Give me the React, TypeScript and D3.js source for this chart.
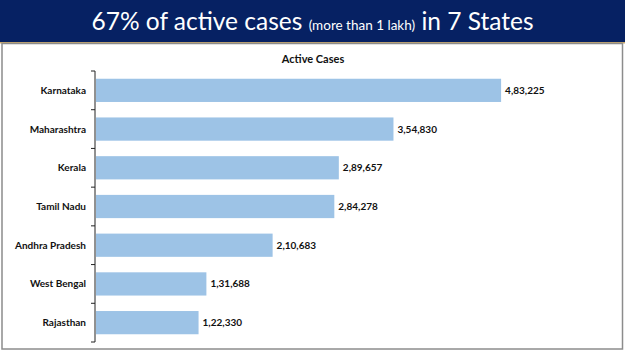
import React from "react";
import * as d3 from "d3";

const states = ["Karnataka", "Maharashtra", "Kerala", "Tamil Nadu", "Andhra Pradesh", "West Bengal", "Rajasthan"];
const activeCases = [483225, 354830, 289657, 284278, 210683, 131688, 122330];
const valueLabels = ["4,83,225", "3,54,830", "2,89,657", "2,84,278", "2,10,683", "1,31,688", "1,22,330"];
const chartTitle = "Active Cases";

const W = 625;
const H = 351;

export default function App() {
  const x = d3.scaleLinear().domain([0, 600000]).range([96, 599]);
  const y = d3.scaleBand().domain(states).range([71, 342]).paddingInner(0.4).paddingOuter(0.2);
  const step = y.step();
  const font = "Lato, 'Open Sans', sans-serif";

  return (
    <svg width={W} height={H} style={{ position: "absolute", left: 0, top: 0 }} xmlns="http://www.w3.org/2000/svg">
      <rect x={0} y={0} width={W} height={H} fill="#ffffff" />
      {/* header */}
      <rect x={0} y={0} width={W} height={42} fill="#062163" />
      <rect x={0} y={42} width={W} height={1.5} fill="#c9a76b" />
      <text x={W / 2} y={30} textAnchor="middle" fill="#ffffff" fontFamily={font} fontSize={24.5}>
        <tspan>67% of active cases </tspan>
        <tspan fontSize={13.5}>(more than 1 lakh)</tspan>
        <tspan> in 7 States</tspan>
      </text>
      {/* frame */}
      <rect x={2} y={43.5} width={620.5} height={305.5} fill="none" stroke="#8c8c8c" strokeWidth={1.5} />
      {/* title */}
      <text x={313} y={63} textAnchor="middle" fontFamily={font} fontWeight={700} fontSize={11} fill="#111">
        {chartTitle}
      </text>
      {/* bars */}
      {states.map((s, i) => (
        <rect key={s} x={x(0)} y={y(s)!} width={x(activeCases[i]) - x(0)} height={y.bandwidth()} fill="#9dc3e6" />
      ))}
      {/* value labels */}
      {states.map((s, i) => (
        <text
          key={s + "v"}
          x={x(activeCases[i]) + 4}
          y={y(s)! + y.bandwidth() / 2}
          dy="0.35em"
          fontFamily={font}
          fontWeight={700}
          fontSize={10}
          fill="#111"
        >
          {valueLabels[i]}
        </text>
      ))}
      {/* axis */}
      <line x1={95} x2={95} y1={71} y2={342} stroke="#222" strokeWidth={1} />
      {d3.range(states.length + 1).map((k) => (
        <line key={"t" + k} x1={91} x2={95} y1={71 + k * step} y2={71 + k * step} stroke="#222" strokeWidth={1} />
      ))}
      {states.map((s) => (
        <text
          key={s + "l"}
          x={86}
          y={y(s)! + y.bandwidth() / 2}
          dy="0.35em"
          textAnchor="end"
          fontFamily={font}
          fontWeight={700}
          fontSize={10}
          fill="#111"
        >
          {s}
        </text>
      ))}
    </svg>
  );
}
